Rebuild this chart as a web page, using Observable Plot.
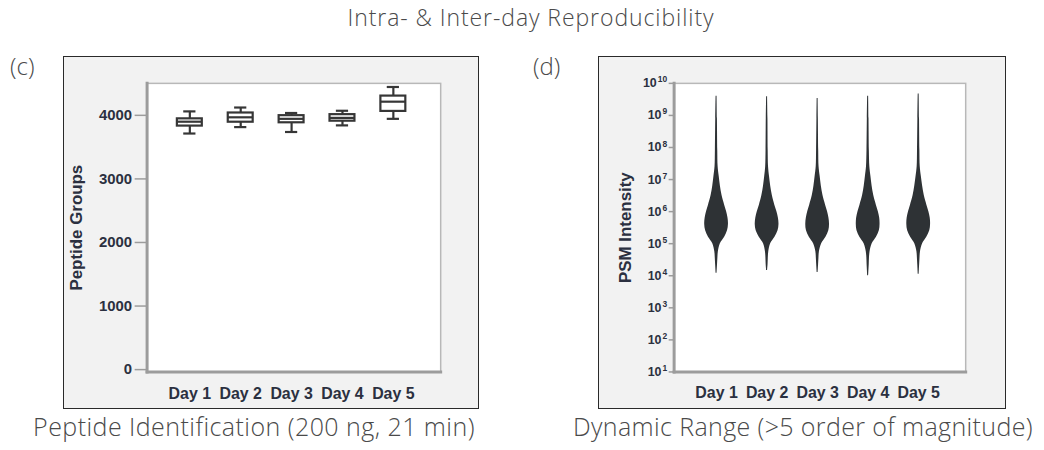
<!DOCTYPE html>
<html><head><meta charset="utf-8">
<script src="https://cdn.jsdelivr.net/npm/d3@7"></script>
<script src="https://cdn.jsdelivr.net/npm/@observablehq/plot@0.6"></script>
<style>
body{margin:0;background:#fff;width:1044px;height:450px;overflow:hidden;position:relative;font-family:"Liberation Sans",Arial,sans-serif;}
.t{position:absolute;font-family:"Open Sans",Roboto,sans-serif;font-weight:300;color:#4a4a4a;white-space:nowrap;transform:translateX(-50%);line-height:1;}
.frame{position:absolute;background:#f2f2f2;border:1.5px solid #2a2a2a;box-sizing:border-box;}
.frame svg{position:absolute;left:-1.5px;top:-1.5px;}
.tag{position:absolute;font-family:"Open Sans",Roboto,sans-serif;font-weight:300;font-size:24px;color:#4a4a4a;line-height:1;}
</style></head><body>
<div class="t" id="title" style="left:531px;top:6px;font-size:23px">Intra- &amp; Inter-day Reproducibility</div>
<div class="tag" style="left:10px;top:54px">(c)</div>
<div class="tag" style="left:533px;top:54px">(d)</div>
<div class="frame" id="fc" style="left:63px;top:56px;width:416px;height:353px"></div>
<div class="frame" id="fd" style="left:598px;top:56px;width:408px;height:353px"></div>
<div class="t" id="cap1" style="left:254px;top:414px;font-size:25px">Peptide Identification (200 ng, 21 min)</div>
<div class="t" id="cap2" style="left:803px;top:414px;font-size:25px">Dynamic Range (&gt;5 order of magnitude)</div>
<script>
// ---- data: panel (c) peptide groups box plot ----
const days = ["Day 1", "Day 2", "Day 3", "Day 4", "Day 5"];
const peptideMin    = [3714, 3815, 3738, 3842, 3945];
const peptideQ1     = [3831, 3892, 3883, 3908, 4062];
const peptideMedian = [3900, 3969, 3945, 3960, 4215];
const peptideQ3     = [3945, 4037, 3995, 4011, 4303];
const peptideMax    = [4062, 4123, 4037, 4072, 4446];
const peptideTicks  = [0, 1000, 2000, 3000, 4000];

// ---- data: panel (d) PSM intensity violins (log10 levels, relative density) ----
const psmLogLevels = [4.35, 4.55, 4.75, 5.0, 5.2, 5.4, 5.6, 5.8, 6.0, 6.2, 6.5, 6.8, 7.1, 7.4, 7.9, 8.9];
const psmLogMin = [4.08, 4.16, 4.10, 4.00, 4.05];
const psmLogMax = [9.60, 9.58, 9.53, 9.60, 9.67];
const psmEndDensity = 0.04;
const psmDensityDay1 = [0.08, 0.11, 0.15, 0.32, 0.68, 0.92, 1.00, 0.96, 0.84, 0.68, 0.46, 0.32, 0.22, 0.13, 0.10, 0.07];
const psmDensityDay2 = [0.08, 0.10, 0.14, 0.30, 0.66, 0.92, 1.00, 0.95, 0.82, 0.65, 0.44, 0.30, 0.20, 0.12, 0.09, 0.07];
const psmDensityDay3 = [0.08, 0.11, 0.15, 0.34, 0.70, 0.94, 1.00, 0.95, 0.83, 0.67, 0.45, 0.31, 0.21, 0.12, 0.09, 0.06];
const psmDensityDay4 = [0.09, 0.11, 0.16, 0.34, 0.70, 0.94, 1.00, 0.97, 0.85, 0.69, 0.47, 0.33, 0.23, 0.14, 0.10, 0.07];
const psmDensityDay5 = [0.08, 0.11, 0.15, 0.33, 0.68, 0.93, 1.00, 0.97, 0.85, 0.69, 0.47, 0.33, 0.22, 0.13, 0.10, 0.07];
const psmTicks = [1e1, 1e2, 1e3, 1e4, 1e5, 1e6, 1e7, 1e8, 1e9, 1e10];

// ---- build tables ----
const boxData = days.map((d, i) => ({
  day: i + 1, min: peptideMin[i], q1: peptideQ1[i], median: peptideMedian[i], q3: peptideQ3[i], max: peptideMax[i]
}));
const densities = [psmDensityDay1, psmDensityDay2, psmDensityDay3, psmDensityDay4, psmDensityDay5];
const violinRows = densities.flatMap((dens, i) => {
  const lv = [psmLogMin[i], ...psmLogLevels, psmLogMax[i]];
  const dn = [psmEndDensity, ...dens, psmEndDensity];
  return lv.map((l, j) => ({day: i + 1, intensity: Math.pow(10, l), density: dn[j]}));
});

const textColor = "#2b3040";
const axisGray = "#9c9c9c";
const ink = "#363636";
const xDomain = [0.16, 5.93];
const boxHalf = 0.245, capHalf = 0.12, violinHalf = 0.235;

const baseStyle = {background: "transparent", fontFamily: "'Liberation Sans', Arial, sans-serif", fontSize: "15px", fontWeight: "bold", color: textColor, overflow: "visible"};

const chartC = Plot.plot({
  width: 416, height: 353,
  marginLeft: 84, marginRight: 37, marginTop: 27, marginBottom: 36,
  style: baseStyle,
  x: {domain: xDomain},
  y: {domain: [-37, 4503]},
  marks: [
    Plot.frame({fill: "white", stroke: "#b8b8b8", strokeWidth: 1.5}),
    Plot.frame({anchor: "left", stroke: axisGray, strokeWidth: 3}),
    Plot.frame({anchor: "bottom", stroke: axisGray, strokeWidth: 3}),
    Plot.axisY({ticks: peptideTicks, tickFormat: d => String(d), tickSize: 12, tickPadding: 3, stroke: axisGray, strokeWidth: 1.5, fontSize: 15,
      label: "Peptide Groups", labelAnchor: "center", labelArrow: "none", labelOffset: 77}),
    Plot.axisX({ticks: [1, 2, 3, 4, 5], tickFormat: d => days[d - 1], tickSize: 0, tickPadding: 16, fontSize: 16, label: null}),
    Plot.ruleX(boxData, {x: "day", y1: "min", y2: "max", stroke: ink, strokeWidth: 2.2}),
    Plot.rect(boxData, {x1: d => d.day - boxHalf, x2: d => d.day + boxHalf, y1: "q1", y2: "q3", fill: "white", stroke: ink, strokeWidth: 2.2}),
    Plot.ruleY(boxData, {y: "median", x1: d => d.day - boxHalf, x2: d => d.day + boxHalf, stroke: ink, strokeWidth: 2.2}),
    Plot.ruleY(boxData, {y: "min", x1: d => d.day - capHalf, x2: d => d.day + capHalf, stroke: ink, strokeWidth: 2.2}),
    Plot.ruleY(boxData, {y: "max", x1: d => d.day - capHalf, x2: d => d.day + capHalf, stroke: ink, strokeWidth: 2.2})
  ]
});
document.getElementById("fc").appendChild(chartC);

const chartD = Plot.plot({
  width: 408, height: 353,
  marginLeft: 76, marginRight: 39, marginTop: 27, marginBottom: 36,
  style: baseStyle,
  x: {domain: xDomain},
  y: {type: "log", domain: [1e1, 1e10]},
  marks: [
    Plot.frame({fill: "white", stroke: "#b8b8b8", strokeWidth: 1.5}),
    Plot.frame({anchor: "left", stroke: axisGray, strokeWidth: 3}),
    Plot.frame({anchor: "bottom", stroke: axisGray, strokeWidth: 3}),
    Plot.axisY({ticks: psmTicks, tickFormat: d => "10^" + Math.round(Math.log10(d)), tickSize: 5, tickPadding: 2, stroke: axisGray, strokeWidth: 1.5, fontSize: 12.5,
      label: "PSM Intensity", labelAnchor: "center", labelArrow: "none", labelOffset: 55}),
    Plot.axisX({ticks: [1, 2, 3, 4, 5], tickFormat: d => days[d - 1], tickSize: 0, tickPadding: 15, fontSize: 16, label: null}),
    Plot.areaX(violinRows, {y: "intensity", x1: d => d.day - d.density * violinHalf, x2: d => d.day + d.density * violinHalf,
      z: "day", fill: "#2e3235", curve: "catmull-rom"})
  ]
});
document.getElementById("fd").appendChild(chartD);

// axis titles larger; power-of-ten tick labels with real superscripts
[chartC, chartD].forEach(svg => {
  svg.querySelectorAll('[aria-label="y-axis label"]').forEach(g => {
    g.setAttribute("font-size", "17");
    g.querySelectorAll("text").forEach(t => t.setAttribute("font-size", "17"));
  });
});
chartD.querySelectorAll('[aria-label="y-axis tick label"] text').forEach(t => {
  const s = t.textContent;
  if (s.indexOf("^") > 0) {
    const exp = s.split("^")[1];
    t.textContent = "10";
    const ts = document.createElementNS("http://www.w3.org/2000/svg", "tspan");
    ts.setAttribute("dy", "-5");
    ts.setAttribute("dx", "1");
    ts.setAttribute("font-size", "8.5");
    ts.textContent = exp;
    t.appendChild(ts);
  }
});

// match the reference's text widths for the light headings
function fitWidth(id, target) {
  const el = document.getElementById(id);
  const w = el.getBoundingClientRect().width;
  const n = el.textContent.length;
  el.style.letterSpacing = ((target - w) / n).toFixed(2) + "px";
}
fitWidth("title", 367);
fitWidth("cap1", 442);
fitWidth("cap2", 460);
</script>
</body></html>
